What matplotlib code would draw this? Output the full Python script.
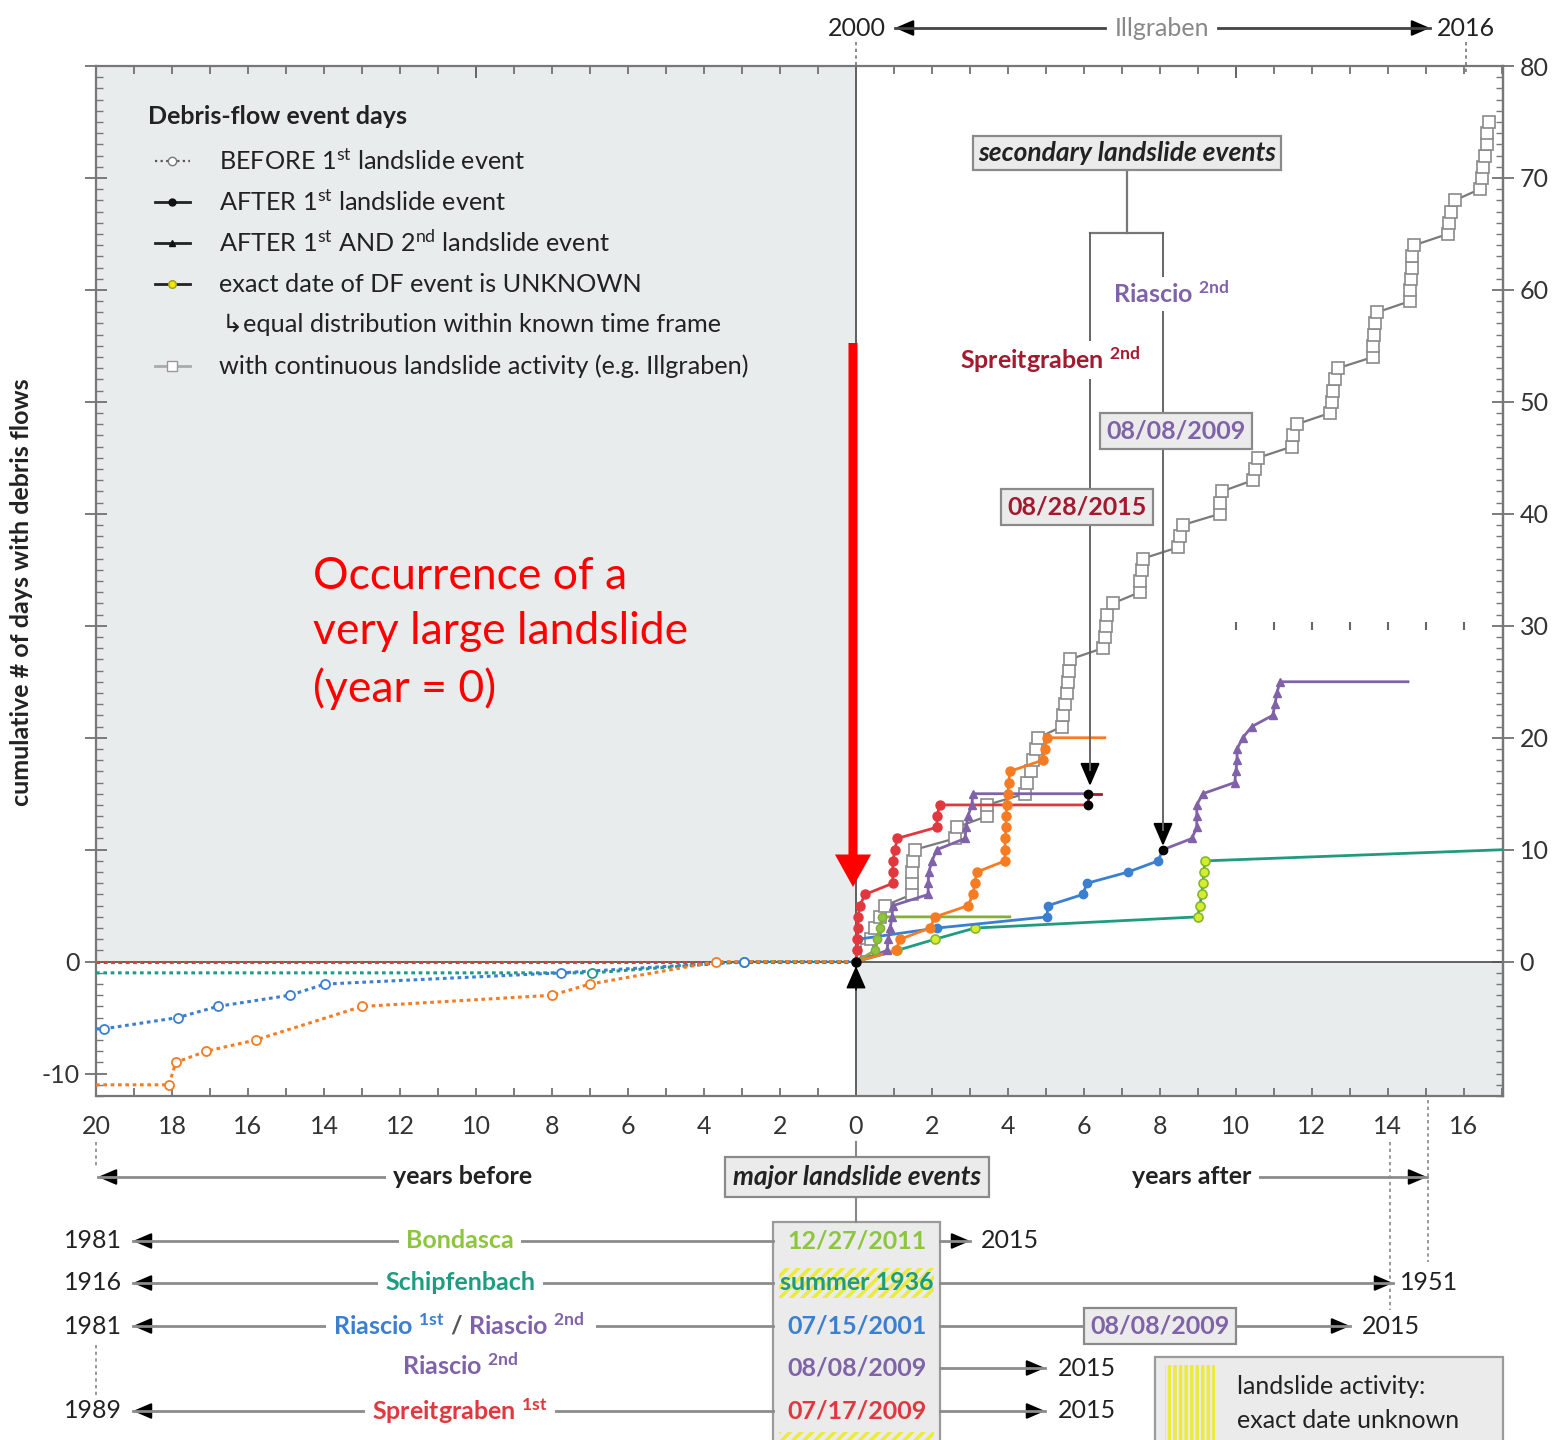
import matplotlib
matplotlib.use('Agg')
import matplotlib.pyplot as plt
from matplotlib.patches import Rectangle, FancyArrowPatch
from matplotlib.lines import Line2D
from matplotlib.transforms import Affine2D
from matplotlib.ticker import MultipleLocator

plt.rcParams['font.family'] = ['Lato', 'DejaVu Sans']
plt.rcParams['mathtext.fontset'] = 'custom'
plt.rcParams['mathtext.rm'] = 'Lato'
plt.rcParams['mathtext.bf'] = 'Lato:bold'
plt.rcParams['mathtext.it'] = 'Lato:italic'
plt.rcParams['hatch.linewidth'] = 2.5

# ---------------- data ----------------
# Illgraben (continuous landslide activity), years after 2000, cumulative count
ill_x = [0, 0.30, 0.40, 0.50, 0.63, 0.76, 1.47, 1.47, 1.47, 1.50, 1.55, 2.60, 2.66, 3.45, 3.45,
         4.45, 4.50, 4.62, 4.65, 4.75, 4.80, 5.42, 5.45, 5.50, 5.55, 5.58, 5.60, 5.63,
         6.50, 6.55, 6.58, 6.60, 6.76, 7.47, 7.47, 7.53, 7.55, 8.47, 8.53, 8.60,
         9.58, 9.58, 9.63, 10.45, 10.50, 10.58, 11.47, 11.50, 11.60,
         12.47, 12.53, 12.55, 12.60, 12.68, 13.60, 13.60, 13.63, 13.66, 13.72,
         14.58, 14.58, 14.61, 14.63, 14.63, 14.70, 15.58, 15.61, 15.66, 15.76,
         16.42, 16.47, 16.50, 16.55, 16.60, 16.60, 16.66]
ill_y = list(range(0, 76))

# Spreitgraben 1st (red), after
sp1_x = [0, 0.03, 0.04, 0.05, 0.06, 0.10, 0.24, 0.97, 0.97, 0.97, 1.03, 1.08, 2.13, 2.13, 2.21, 6.12]
sp1_y = [0, 1, 2, 3, 4, 5, 6, 7, 8, 9, 10, 11, 12, 13, 14, 14]
# Spreitgraben 2nd (dark red)
sp2_x = [6.12, 6.12, 6.45]
sp2_y = [14, 15, 15]
# Riascio 1st (blue), after
ri1_x = [0, 0.02, 0.05, 2.13, 5.03, 5.05, 5.97, 6.08, 7.16, 7.95, 8.08]
ri1_y = [0, 1, 2, 3, 4, 5, 6, 7, 8, 9, 10]
# Riascio 1st + 2nd (purple, continuation after 2nd event)
ri12_x = [8.08, 8.84, 8.97, 8.97, 8.97, 9.13, 9.97, 10.00, 10.03, 10.03, 10.18, 10.42,
          10.97, 11.03, 11.08, 11.16, 14.53]
ri12_y = [10, 11, 12, 13, 14, 15, 16, 17, 18, 19, 20, 21, 22, 23, 24, 25, 25]
# Riascio 2nd (purple), after
ri2_x = [0, 0.82, 0.85, 0.90, 0.95, 0.97, 1.90, 1.90, 1.92, 2.00, 2.13, 2.87, 2.90, 2.95, 3.05, 3.08, 6.12]
ri2_y = [0, 1, 2, 3, 4, 5, 6, 7, 8, 9, 10, 11, 12, 13, 14, 15, 15]
# orange series, after
or_x = [0, 1.05, 1.16, 1.95, 2.08, 2.95, 3.08, 3.13, 3.18, 3.92, 3.92, 3.93, 3.95, 3.95, 3.97,
        4.00, 4.02, 4.05, 4.92, 4.97, 5.03, 6.55]
or_y = [0, 1, 2, 3, 4, 5, 6, 7, 8, 9, 10, 11, 12, 13, 14, 15, 16, 17, 18, 19, 20, 20]
# Bondasca (green), after
bo_x = [0, 0.50, 0.55, 0.63, 0.68, 4.05]
bo_y = [0, 1, 2, 3, 4, 4]
# Schipfenbach (teal), after; dates unknown -> equally distributed
sc_x = [0, 1.08, 2.08, 3.13, 9.00, 9.05, 9.10, 9.13, 9.16, 9.18, 17.03]
sc_y = [0, 1, 2, 3, 4, 5, 6, 7, 8, 9, 10]

# before series
orb_x = [-20, -18.08, -17.9, -17.1, -15.8, -13.0, -8.0, -7.0, -3.67, 0]
orb_y = [-11, -11, -9, -8, -7, -4, -3, -2, 0, 0]
blb_x = [-20, -19.8, -17.85, -16.8, -14.9, -13.97, -7.76, -2.95, 0]
blb_y = [-6, -6, -5, -4, -3, -2, -1, 0, 0]
teb_x = [-20, -6.95, -2.95, 0]
teb_y = [-1, -1, 0, 0]
bob_x = [-20, 0]
bob_y = [0, 0]
spb_x = [-20, 0]
spb_y = [0, 0]

# secondary landslide markers (black dots)
sec_x = [6.12, 6.12, 8.08]
sec_y = [14, 15, 10]

xticks = list(range(-20, 17, 2))
xticklabels = [str(abs(v)) for v in xticks]

# colours
C_RED = '#e0383e'
C_DRED = '#a3192f'
C_BLUE = '#3b7fd0'
C_PURP = '#8062a8'
C_ORNG = '#f57c22'
C_GRN = '#8cc63f'
C_OLIV = '#84ad3c'
C_TEAL = '#1f9c80'
C_LIME = '#d6ec30'
SH = '#e9ecec'

FS = 18  # base font size

W, H = 1555, 1440
fig = plt.figure(figsize=(W / 100, H / 100), dpi=100)
PT = Affine2D().scale(1 / W, -1 / H).translate(0, 1) + fig.transFigure

ax = fig.add_axes([96 / W, 1 - 1096 / H, (1503 - 96) / W, (1096 - 66) / H])
ax.set_xlim(-20, 17.03)
ax.set_ylim(-12, 80)

ax.add_patch(Rectangle((-20, 0), 20, 80, fc=SH, ec='none', zorder=0))
ax.add_patch(Rectangle((0, -12), 17.03, 12, fc=SH, ec='none', zorder=0))
ax.axhline(0, color='#555555', lw=1.3, zorder=1)
ax.axvline(0, color='#444444', lw=1.2, zorder=1)

for s in ax.spines.values():
    s.set_color('#777777')
    s.set_linewidth(1.6)

# ---- before series (dotted, open circles)
def before(x, y, c, marks=True):
    ax.plot(x, y, ls=(0, (1.2, 1.2)), lw=2.2, color=c, zorder=3)
    if marks:
        ax.plot(x[1:-1], y[1:-1], ls='none', marker='o', ms=6.5, mfc='white', mec=c, mew=1.3, zorder=4)

before(bob_x, bob_y, C_OLIV, marks=False)
before(spb_x, spb_y, C_RED, marks=False)
before(teb_x, teb_y, C_TEAL)
before(blb_x, blb_y, C_BLUE)
before(orb_x, orb_y, C_ORNG)

# ---- after series
ax.plot(sc_x, sc_y, color=C_TEAL, lw=2, zorder=5)
ax.plot(sc_x[1:-1], sc_y[1:-1], ls='none', marker='o', ms=6.5, mfc=C_LIME, mec='#86b82a', mew=1.2, zorder=6)

ax.plot(ill_x, ill_y, color='#7a7a7a', lw=1.6, zorder=5,
        marker='s', ms=8.5, mfc='white', mec='#8a8a8a', mew=1.2, markevery=list(range(1, len(ill_x))))

ax.plot(ri1_x, ri1_y, color=C_BLUE, lw=2, zorder=6)
ax.plot(ri1_x[1:-1], ri1_y[1:-1], ls='none', marker='o', ms=6, color=C_BLUE, zorder=7)

ax.plot(ri12_x, ri12_y, color=C_PURP, lw=2, zorder=6)
ax.plot(ri12_x[1:-1], ri12_y[1:-1], ls='none', marker='^', ms=6, color=C_PURP, zorder=7)

ax.plot(ri2_x, ri2_y, color=C_PURP, lw=2, zorder=6)
ax.plot(ri2_x[1:-1], ri2_y[1:-1], ls='none', marker='^', ms=6, color=C_PURP, zorder=7)

ax.plot(bo_x, bo_y, color=C_OLIV, lw=2, zorder=6)
ax.plot(bo_x[1:-1], bo_y[1:-1], ls='none', marker='o', ms=6, color=C_GRN, mec=C_OLIV, zorder=7)

ax.plot(or_x, or_y, color=C_ORNG, lw=2, zorder=6)
ax.plot(or_x[1:-1], or_y[1:-1], ls='none', marker='o', ms=6.5, color=C_ORNG, zorder=7)

ax.plot(sp1_x, sp1_y, color=C_RED, lw=2, zorder=6)
ax.plot(sp1_x[1:-1], sp1_y[1:-1], ls='none', marker='o', ms=6.5, color=C_RED, zorder=7)

ax.plot(sp2_x, sp2_y, color=C_DRED, lw=2, zorder=6)

ax.plot(sec_x, sec_y, ls='none', marker='o', ms=6, color='black', zorder=8)
ax.plot([0], [0], ls='none', marker='o', ms=6.5, color='black', zorder=8)

# faint year marks at y = 30
ax.plot(list(range(10, 17)), [30] * 7, ls='none', marker='|', ms=6, mew=1.5, color='#666666', zorder=2)

# ---- ticks
ax.set_xticks(xticks)
ax.set_xticklabels(xticklabels, fontsize=FS, color='#333333')
ax.xaxis.set_minor_locator(MultipleLocator(1))
ax.tick_params(axis='x', which='both', direction='in', top=True, bottom=True, length=6,
               width=1.2, color='#666666', pad=14)
ax.set_yticks(list(range(-10, 81, 10)))
ax.set_yticklabels(['-10', '0'] + [''] * 8, fontsize=FS, color='#333333')
ax.yaxis.set_minor_locator(MultipleLocator(1))
ax.tick_params(axis='y', which='major', direction='inout', length=16, width=1.2, color='#666666', pad=4)
ax.tick_params(axis='y', which='minor', direction='in', length=5, width=1.0, color='#777777')
# longer top ticks at decades
ax.vlines([-20, -10, 0, 10], 80 - 1.1, 80, color='#666666', lw=1.4, zorder=2)

ax2 = ax.secondary_yaxis('right')
ax2.set_yticks(list(range(0, 81, 10)))
ax2.set_yticklabels([str(v) for v in range(0, 81, 10)], fontsize=FS, color='#333333')
ax2.yaxis.set_minor_locator(MultipleLocator(1))
ax2.tick_params(which='major', direction='inout', length=16, width=1.2, color='#666666', pad=4)
ax2.tick_params(which='minor', direction='in', length=5, width=1.0, color='#777777')
ax2.spines['right'].set_color('#777777')
ax2.spines['right'].set_linewidth(1.6)

# ---------------- helpers in pixel coordinates ----------------
def T(px, py, s, **kw):
    kw.setdefault('va', 'center')
    kw.setdefault('fontsize', FS)
    kw.setdefault('color', '#222222')
    return fig.text(px, py, s, transform=PT, **kw)

def L(xs, ys, **kw):
    kw.setdefault('color', '#8c8c8c')
    kw.setdefault('lw', 2)
    fig.add_artist(Line2D(xs, ys, transform=PT, **kw))

def HEAD(x0, y0, x1, y1, color='black', ms=16):
    fig.add_artist(FancyArrowPatch((x0, y0), (x1, y1), transform=PT,
                                   arrowstyle='-|>,head_length=0.7,head_width=0.3',
                                   mutation_scale=ms, color=color, lw=1.5, shrinkA=0, shrinkB=0))

def ARROW(x0, y0, x1, y1, lc='#8c8c8c', hc='black'):
    L([x0, x1], [y0, y1], color=lc)
    dx = 1 if x1 > x0 else -1 if x1 < x0 else 0
    dy = 1 if y1 > y0 else -1 if y1 < y0 else 0
    HEAD(x1 - 12 * dx, y1 - 12 * dy, x1, y1, color=hc)

WB = dict(boxstyle='square,pad=0.3', fc='white', ec='none')
GB = dict(boxstyle='square,pad=0.25', fc='#ebebeb', ec='#8a8a8a', lw=1.6)

# ---- legend inside plot
T(148, 117, 'Debris-flow event days', fontweight='bold', fontsize=18)
L([155, 190], [161, 161], color='#555555', lw=1.6, ls=(0, (1, 1.5)))
fig.add_artist(Line2D([172], [161], transform=PT, marker='o', ms=6, mfc='white', mec='#777777', ls='none'))
L([155, 190], [202, 202], color='#222222', lw=2)
fig.add_artist(Line2D([172], [202], transform=PT, marker='o', ms=5, color='#111111', ls='none'))
L([155, 190], [243, 243], color='#222222', lw=2)
fig.add_artist(Line2D([172], [243], transform=PT, marker='^', ms=5, color='#111111', ls='none'))
L([155, 190], [284, 284], color='#222222', lw=2)
fig.add_artist(Line2D([172], [284], transform=PT, marker='o', ms=5.5, mfc='#f2e600', mec='#9a9a20', ls='none'))
L([155, 190], [366, 366], color='#aaaaaa', lw=2)
fig.add_artist(Line2D([172], [366], transform=PT, marker='s', ms=7, mfc='white', mec='#999999', ls='none'))
LFS = 18.2
T(219, 161, r'BEFORE 1$^{\mathregular{st}}$ landslide event', fontsize=LFS)
T(219, 202, r'AFTER 1$^{\mathregular{st}}$ landslide event', fontsize=LFS)
T(219, 243, r'AFTER 1$^{\mathregular{st}}$ AND 2$^{\mathregular{nd}}$ landslide event', fontsize=LFS)
T(219, 284, 'exact date of DF event is UNKNOWN', fontsize=LFS)
T(222, 325, '\u21b3equal distribution within known time frame', fontsize=LFS)
T(219, 366, 'with continuous landslide activity (e.g. Illgraben)', fontsize=LFS)

# ---- big red arrow and text
fig.add_artist(FancyArrowPatch((853, 343), (853, 887), transform=PT,
                               arrowstyle='simple,head_length=0.9,head_width=1.0,tail_width=0.25',
                               mutation_scale=26, color='#ff0000', lw=0, shrinkA=0, shrinkB=0, zorder=10))
T(313, 633, 'Occurrence of a\nvery large landslide\n(year = 0)', fontsize=32, color='#ff0000',
  linespacing=1.42, ha='left')

# ---- bottom arrow at origin
fig.add_artist(FancyArrowPatch((856, 990), (856, 966), transform=PT,
                               arrowstyle='-|>,head_length=0.8,head_width=0.35',
                               mutation_scale=18, color='black', lw=1, shrinkA=0, shrinkB=0))

# ---- secondary landslide events annotation
L([1127, 1127], [170, 233], color='#777777', lw=1.6)
L([1090, 1163], [233, 233], color='#777777', lw=1.6)
L([1090, 1090], [233, 770], color='#666666', lw=1.4)
L([1163, 1163], [233, 830], color='#666666', lw=1.4)
HEAD(1090, 765, 1090, 786, ms=20)
HEAD(1163, 825, 1163, 846, ms=20)
T(1127, 153, 'secondary landslide events', ha='center', fontweight='bold', style='italic', fontsize=19,
  bbox=dict(boxstyle='square,pad=0.2', fc='#ebebeb', ec='#8a8a8a', lw=1.6))
T(1113, 294, r'Riascio $^{\mathbf{2nd}}$', ha='left', color=C_PURP, fontweight='bold', fontsize=18,
  bbox=dict(boxstyle='square,pad=0.15', fc='white', ec='none'))
T(960, 360, r'Spreitgraben $^{\mathbf{2nd}}$', ha='left', color=C_DRED, fontweight='bold', fontsize=18,
  bbox=dict(boxstyle='square,pad=0.15', fc='white', ec='none'))
T(1176, 431, '08/08/2009', ha='center', color=C_PURP, fontweight='bold', fontsize=18, bbox=GB)
T(1077, 507, '08/28/2015', ha='center', color=C_DRED, fontweight='bold', fontsize=18, bbox=GB)

# ---- header (Illgraben)
T(857, 28, '2000', ha='center')
T(1466, 28, '2016', ha='center')
T(1162, 28, 'Illgraben', ha='center', color='#888888')
ARROW(1105, 28, 895, 28, lc='#444444', hc='black')
ARROW(1218, 28, 1430, 28, lc='#444444', hc='black')
L([856, 856], [42, 66], color='#777777', lw=1.2, ls=(0, (2, 2)))
L([1466, 1466], [42, 74], color='#777777', lw=1.2, ls=(0, (2, 2)))

# ---- y label
T(22, 592, 'cumulative # of days with debris flows', rotation=90, ha='center', fontweight='bold', fontsize=18)

# ---------------- bottom table ----------------
L([96, 96], [1142, 1166], color='#888888', lw=1.2, ls=(0, (2, 2)))
L([96, 96], [1345, 1395], color='#888888', lw=1.2, ls=(0, (2, 2)))
L([1390, 1390], [1142, 1310], color='#888888', lw=1.2, ls=(0, (2, 2)))
L([1428, 1428], [1100, 1262], color='#888888', lw=1.2, ls=(0, (2, 2)))
L([856, 856], [1142, 1222], color='#888888', lw=1.5)

ARROW(500, 1177, 98, 1177)
ARROW(1200, 1177, 1427, 1177)
T(463, 1177, 'years before', ha='center', fontweight='bold', bbox=WB)
T(1192, 1177, 'years after', ha='center', fontweight='bold', bbox=WB)
T(857, 1177, 'major landslide events', ha='center', fontweight='bold', style='italic', fontsize=19,
  bbox=dict(boxstyle='square,pad=0.3', fc='#ebebeb', ec='#8a8a8a', lw=1.6))

# date column box
fig.add_artist(Rectangle((773, 1222), 167, 230, transform=PT, fc='#ebebeb', ec='#9a9a9a', lw=1.6))
fig.add_artist(Rectangle((779, 1268), 155, 30, transform=PT, fc='none', ec='#ecea3a', lw=0, hatch='///'))
fig.add_artist(Rectangle((779, 1432), 155, 20, transform=PT, fc='none', ec='#ecea3a', lw=0, hatch='///'))

# left parts
for yy, yr in [(1241, '1981'), (1283, '1916'), (1326, '1981'), (1411, '1989')]:
    T(122, yy, yr, ha='right')
    ARROW(773, yy, 133, yy)
T(460, 1241, 'Bondasca', ha='center', color=C_GRN, fontweight='bold', bbox=WB)
T(460, 1283, 'Schipfenbach', ha='center', color=C_TEAL, fontweight='bold', bbox=WB)
fig.add_artist(Rectangle((326, 1306), 270, 40, transform=PT, fc='white', ec='none', zorder=2.5))
T(444, 1326, r'Riascio $^{\mathbf{1st}}$', ha='right', color=C_BLUE, fontweight='bold')
T(456, 1326, '/', ha='center', color='#555555', fontweight='bold')
T(468, 1326, r'Riascio $^{\mathbf{2nd}}$', ha='left', color=C_PURP, fontweight='bold')
T(460, 1366, r'Riascio $^{\mathbf{2nd}}$', ha='center', color=C_PURP, fontweight='bold')
T(460, 1411, r'Spreitgraben $^{\mathbf{1st}}$', ha='center', color=C_RED, fontweight='bold', bbox=WB)

# dates
T(857, 1241, '12/27/2011', ha='center', color=C_GRN, fontweight='bold')
T(857, 1283, 'summer 1936', ha='center', color=C_TEAL, fontweight='bold')
T(857, 1326, '07/15/2001', ha='center', color=C_BLUE, fontweight='bold')
T(857, 1368, '08/08/2009', ha='center', color=C_PURP, fontweight='bold')
T(857, 1411, '07/17/2009', ha='center', color=C_RED, fontweight='bold')

# right parts
ARROW(940, 1241, 970, 1241)
T(981, 1241, '2015', ha='left')
ARROW(940, 1283, 1393, 1283)
T(1400, 1283, '1951', ha='left')
ARROW(940, 1326, 1350, 1326)
T(1160, 1326, '08/08/2009', ha='center', color=C_PURP, fontweight='bold', bbox=GB)
T(1362, 1326, '2015', ha='left')
ARROW(940, 1368, 1045, 1368)
T(1058, 1368, '2015', ha='left')
ARROW(940, 1411, 1045, 1411)
T(1058, 1411, '2015', ha='left')

# bottom-right legend
fig.add_artist(Rectangle((1155, 1357), 348, 95, transform=PT, fc='#ebebeb', ec='#9a9a9a', lw=1.6))
fig.add_artist(Rectangle((1165, 1365), 50, 80, transform=PT, fc='none', ec='#ecea3a', lw=0, hatch='|||'))
T(1237, 1387, 'landslide activity:', ha='left')
T(1237, 1420, 'exact date unknown', ha='left')

fig.savefig('out.png', dpi=100, facecolor='white')
